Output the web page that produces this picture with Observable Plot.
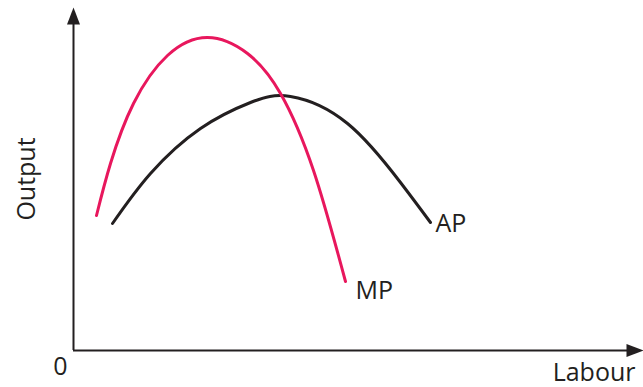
<!DOCTYPE html>
<html>
<head>
<meta charset="utf-8">
<script src="https://cdn.jsdelivr.net/npm/d3@7"></script>
<script src="https://cdn.jsdelivr.net/npm/@observablehq/plot@0.6"></script>
<style>
  html, body { margin: 0; padding: 0; background: #fff; }
  svg { display: block; }
</style>
</head>
<body>
<div id="chart"></div>
<script>
// Marginal product (MP) curve (labour units, output units)
const mpLabour = [23, 37, 60, 94, 134, 174, 207, 240, 272];
const mpOutput = [135, 187, 247, 295, 313, 297, 257, 180, 69];

// Average product (AP) curve
const apLabour = [39, 77, 127, 177, 217, 274, 327, 357];
const apOutput = [127, 177, 222, 248, 254, 227, 168, 128];

// Axis extents
const labourMax = 570;
const outputMax = 343;

// Labels
const xLabel = "Labour";
const yLabel = "Output";
const originLabel = "0";
const mpLabel = "MP";
const apLabel = "AP";

const mp = mpLabour.map((x, i) => ({x, y: mpOutput[i]}));
const ap = apLabour.map((x, i) => ({x, y: apOutput[i]}));

const ink = "#231f20";
const pink = "#e8175d";
const font = "'Open Sans', sans-serif";

// Filled arrow-head with its tip at the origin, pointing up
const arrowHead = {
  draw(context) {
    context.moveTo(0, 0);
    context.lineTo(-6.5, 17);
    context.lineTo(6.5, 17);
    context.closePath();
  }
};

const chart = Plot.plot({
  width: 643,
  height: 387,
  marginLeft: 73,
  marginRight: 0,
  marginTop: 7,
  marginBottom: 37,
  x: {domain: [0, labourMax], axis: null},
  y: {domain: [0, outputMax], axis: null},
  style: {fontFamily: font, background: "#fff"},
  marks: [
    Plot.ruleX([0], {y1: 0, y2: outputMax - 14, stroke: ink, strokeWidth: 2}),
    Plot.ruleY([0], {x1: 0, x2: labourMax - 14, stroke: ink, strokeWidth: 2}),
    Plot.dot([{x: 0, y: outputMax}], {x: "x", y: "y", symbol: arrowHead, fill: ink, stroke: "none", r: 5}),
    Plot.dot([{x: labourMax, y: 0}], {x: "x", y: "y", symbol: arrowHead, fill: ink, stroke: "none", r: 5, rotate: 90}),
    Plot.line(ap, {x: "x", y: "y", stroke: ink, strokeWidth: 3, curve: "natural"}),
    Plot.line(mp, {x: "x", y: "y", stroke: pink, strokeWidth: 3, curve: "natural"}),
    Plot.text([ap[ap.length - 1]], {x: "x", y: "y", text: () => apLabel, textAnchor: "start", dx: 5, dy: 1, fontSize: 25, fill: ink}),
    Plot.text([mp[mp.length - 1]], {x: "x", y: "y", text: () => mpLabel, textAnchor: "start", dx: 10, dy: 9, fontSize: 25, fill: ink}),
    Plot.text([{x: 0, y: 0}], {x: "x", y: "y", text: () => originLabel, dx: -13, dy: 16, fontSize: 25, fill: ink}),
    Plot.text([{x: labourMax, y: 0}], {x: "x", y: "y", text: () => xLabel, textAnchor: "end", dx: -8, dy: 22, fontSize: 25, fill: ink}),
    Plot.text([yLabel], {frameAnchor: "left", textAnchor: "middle", text: d => d, rotate: -90, dx: -47, fontSize: 25, fill: ink})
  ]
});

document.getElementById("chart").append(chart);
</script>
</body>
</html>
